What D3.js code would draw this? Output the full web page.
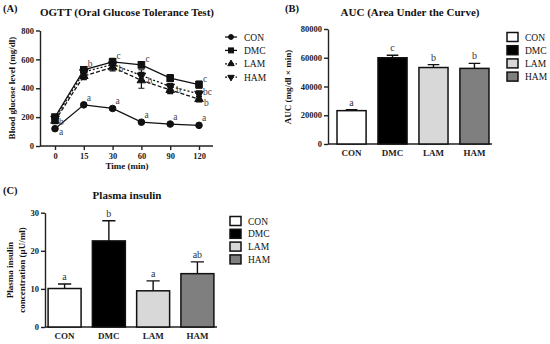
<!DOCTYPE html>
<html>
<head>
<meta charset="utf-8">
<script src="https://d3js.org/d3.v7.min.js"></script>
<style>
  body { margin: 0; background: #fff; }
  svg, svg text { font-family: "Liberation Serif", "Times New Roman", serif; }
  .tick text { font-weight: bold; font-size: 8.5px; fill: #222; }
  .axis path, .axis line { stroke: #222; stroke-width: 1.4; }
</style>
</head>
<body>
<svg width="550" height="344"></svg>
<script>
// ----- data -----
const times = ["0", "15", "30", "60", "90", "120"];
const groups = ["CON", "DMC", "LAM", "HAM"];
const glucose = {
  CON: [120, 285, 260, 165, 152, 143],
  DMC: [200, 528, 582, 562, 470, 425],
  LAM: [175, 485, 545, 455, 388, 325],
  HAM: [190, 512, 565, 488, 412, 362]
};
const glucoseErr = {
  CON: [8, 10, 10, 8, 8, 8],
  DMC: [20, 22, 25, 20, 25, 25],
  LAM: [20, 25, 25, 55, 25, 20],
  HAM: [18, 20, 20, 40, 20, 20]
};
const glucoseLetters = {
  CON: ["a", "a", "a", "a", "a", "a"],
  DMC: ["b", "b", "c", "c", "", "c"],
  LAM: ["", "", "", "", "", "b"],
  HAM: ["", "", "b", "b", "b", "bc"]
};
const auc = [23200, 60000, 53200, 52600];
const aucErr = [700, 1700, 2000, 3500];
const aucLetters = ["a", "c", "b", "b"];
const insulin = [10.1, 22.6, 9.5, 14.0];
const insulinErr = [1.2, 5.3, 2.6, 3.1];
const insulinLetters = ["a", "b", "a", "ab"];
const barFill = { CON: "#ffffff", DMC: "#000000", LAM: "#d8d8d8", HAM: "#7f7f7f" };

const svg = d3.select("svg");

function label(x, y, t, size, bold, anchor) {
  return svg.append("text").attr("x", x).attr("y", y).text(t)
    .style("font-size", size + "px").style("font-weight", bold ? "bold" : "normal")
    .attr("text-anchor", anchor || "middle").attr("fill", "#111");
}
function yLabel(x, y, t, size) {
  svg.append("text").attr("transform", "translate(" + x + "," + y + ") rotate(-90)")
    .attr("text-anchor", "middle").style("font-size", size + "px").style("font-weight", "bold")
    .attr("fill", "#111").text(t);
}
function fixAxis(g) { g.attr("font-family", null).attr("font-size", null); }

// ----- panel A: OGTT -----
const xA = d3.scalePoint().domain(times).range([55, 199]);
const yA = d3.scaleLinear().domain([0, 800]).range([146, 30.5]);

svg.append("g").attr("class", "axis").attr("transform", "translate(40,0)")
  .call(d3.axisLeft(yA).tickValues([0, 200, 400, 600, 800]).tickSize(4).tickPadding(2).tickSizeOuter(0))
  .call(fixAxis);
const gxA = svg.append("g").attr("class", "axis").attr("transform", "translate(0,146)")
  .call(d3.axisBottom(xA).tickSize(4).tickPadding(3).tickSizeOuter(0))
  .call(fixAxis);
gxA.select(".domain").attr("d", "M40,0H213");

label(127, 16, "OGTT (Oral Glucose Tolerance Test)", 11, true);
label(3, 12, "(A)", 10.5, true, "start");
label(127, 169, "Time (min)", 9, true);
yLabel(15, 88, "Blood glucose level (mg/dl)", 9);

const dashes = { CON: null, DMC: null, LAM: "4,2", HAM: "2,2" };
function marker(g, name, x, y, s) {
  if (name === "CON") g.append("circle").attr("cx", x).attr("cy", y).attr("r", s * 0.55);
  else if (name === "DMC") g.append("rect").attr("x", x - s * 0.55).attr("y", y - s * 0.55).attr("width", s * 1.1).attr("height", s * 1.1);
  else {
    const sym = d3.symbol().type(d3.symbolTriangle).size(s * s * 0.9);
    g.append("path").attr("d", sym()).attr("transform", "translate(" + x + "," + y + ")" + (name === "HAM" ? " rotate(180)" : ""));
  }
}

const line = d3.line().x((d, i) => xA(times[i])).y(d => yA(d));
const order = ["HAM", "LAM", "DMC", "CON"];
order.forEach(name => {
  const g = svg.append("g").attr("fill", "#111").attr("stroke", "#111");
  g.append("path").datum(glucose[name]).attr("d", line).attr("fill", "none")
    .attr("stroke-width", 1.3).attr("stroke-dasharray", dashes[name]);
  glucose[name].forEach((v, i) => {
    const x = xA(times[i]);
    const e = glucoseErr[name][i];
    g.append("path").attr("fill", "none").attr("stroke-width", 1.2)
      .attr("d", "M" + (x - 3) + "," + yA(v + e) + "H" + (x + 3) + "M" + x + "," + yA(v + e) + "V" + yA(v - e) + "M" + (x - 3) + "," + yA(v - e) + "H" + (x + 3));
    marker(g, name, x, yA(v), 6);
  });
});

// letters next to points
const letterPos = {
  CON: i => i === 0 ? [4, 6] : [3, -4],
  DMC: i => i === 0 ? [4, 8] : [4, -3],
  LAM: i => [5, 7],
  HAM: i => i === 2 || i === 3 ? [6, 8] : i === 5 ? [4, 1] : [6, 6]
};
groups.forEach(name => {
  glucoseLetters[name].forEach((t, i) => {
    if (!t) return;
    const p = letterPos[name](i);
    label(xA(times[i]) + p[0], yA(glucose[name][i]) + p[1], t, 9.5, false, "start").attr("fill", "#444");
  });
});

// legend A
const legA = svg.append("g").attr("fill", "#111").attr("stroke", "#111");
groups.forEach((name, i) => {
  const y = 37 + i * 13.4;
  legA.append("line").attr("x1", 225).attr("x2", 237).attr("y1", y).attr("y2", y)
    .attr("stroke-width", 1.3).attr("stroke-dasharray", dashes[name] ? "2,1.5" : null);
  marker(legA, name, 231, y, 4.5);
  label(244, y + 3.5, name, 9.5, false, "start");
});

// ----- bar panel helper -----
function barPanel(cfg) {
  const x = d3.scaleBand().domain(groups).range(cfg.xr).paddingInner(cfg.pi).paddingOuter(cfg.po);
  const y = d3.scaleLinear().domain(cfg.yd).range(cfg.yr);
  svg.append("g").attr("class", "axis").attr("transform", "translate(" + cfg.xr[0] + ",0)")
    .call(d3.axisLeft(y).tickValues(cfg.ticks).tickFormat(d3.format("d")).tickSize(4).tickPadding(2).tickSizeOuter(0))
    .call(fixAxis);
  const gx = svg.append("g").attr("class", "axis").attr("transform", "translate(0," + cfg.yr[0] + ")")
    .call(d3.axisBottom(x).tickSize(0).tickPadding(6))
    .call(fixAxis);
  gx.select(".domain").attr("d", "M" + cfg.xr[0] + ",0H" + cfg.xEnd);
  gx.selectAll(".tick text").style("font-size", "9px");
  groups.forEach((g, i) => {
    const v = cfg.values[i], e = cfg.err[i];
    const bx = x(g), bw = x.bandwidth(), cx = bx + bw / 2;
    svg.append("path").attr("fill", "none").attr("stroke", "#111").attr("stroke-width", 1.4)
      .attr("d", "M" + cx + "," + y(v) + "V" + y(v + e) + "M" + (cx - bw * 0.2) + "," + y(v + e) + "H" + (cx + bw * 0.2));
    svg.append("rect").attr("x", bx).attr("y", y(v)).attr("width", bw).attr("height", y(0) - y(v))
      .attr("fill", barFill[g]).attr("stroke", "#111").attr("stroke-width", 1.5);
    label(cx, y(v + e) - 4, cfg.letters[i], 10, false).attr("fill", "#333");
  });
  groups.forEach((g, i) => {
    const ly = cfg.legY + i * cfg.legStep;
    svg.append("rect").attr("x", cfg.legX).attr("y", ly - 4.5).attr("width", 11).attr("height", 9)
      .attr("fill", barFill[g]).attr("stroke", "#111").attr("stroke-width", 1.5);
    label(cfg.legX + 18, ly + 3.5, g, 9.5, false, "start");
  });
}

// ----- panel B: AUC -----
barPanel({
  xr: [328, 498], xEnd: 492, pi: 0.29, po: 0.22,
  yd: [0, 80000], yr: [144, 29], ticks: [0, 20000, 40000, 60000, 80000],
  values: auc, err: aucErr, letters: aucLetters,
  legX: 507, legY: 37, legStep: 13.2
});
label(410, 16, "AUC (Area Under the Curve)", 11, true);
label(285, 12, "(B)", 10.5, true, "start");
yLabel(291, 87, "AUC (mg/dl \u00d7 min)", 9);

// ----- panel C: insulin -----
barPanel({
  xr: [45, 217], xEnd: 217, pi: 0.255, po: 0.07,
  yd: [0, 30], yr: [327, 212.7], ticks: [0, 10, 20, 30],
  values: insulin, err: insulinErr, letters: insulinLetters,
  legX: 230, legY: 221, legStep: 12.8
});
label(127, 199, "Plasma insulin", 11, true);
label(3, 194, "(C)", 10.5, true, "start");
yLabel(13, 270, "Plasma insulin", 9);
yLabel(25, 270, "concentration (\u00b5U/ml)", 9);
</script>
</body>
</html>
